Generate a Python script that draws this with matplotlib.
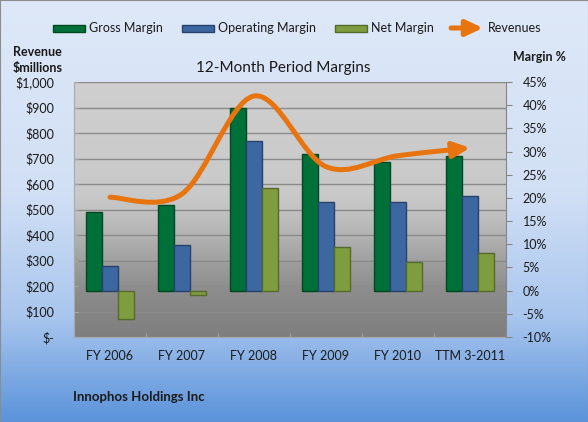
import numpy as np
import matplotlib
matplotlib.use('Agg')
import matplotlib.pyplot as plt
from matplotlib.patches import FancyArrowPatch, Rectangle
from matplotlib.path import Path
from matplotlib.colors import LinearSegmentedColormap

# data
categories = ['FY 2006', 'FY 2007', 'FY 2008', 'FY 2009', 'FY 2010', 'TTM 3-2011']
gross_margin = [17.0, 18.4, 39.3, 29.4, 27.8, 29.1]
operating_margin = [5.4, 9.8, 32.2, 19.1, 19.1, 20.4]
net_margin = [-6.2, -1.0, 22.2, 9.4, 6.2, 8.1]
revenues = [548, 561, 945, 668, 711, 742]

rev_ticks = list(range(0, 1001, 100))
rev_labels = ['$-'] + ['${:,}'.format(v) for v in rev_ticks[1:]]
pct_ticks = list(range(-10, 46, 5))
pct_labels = ['{}%'.format(v) for v in pct_ticks]

plt.rcParams['font.family'] = ['Lato', 'DejaVu Sans']
TXT = '#1a1a1a'

fig = plt.figure(figsize=(5.88, 4.22), dpi=100)

# figure background (light blue -> blue)
bg = fig.add_axes([0, 0, 1, 1], zorder=-10)
bg_cmap = LinearSegmentedColormap.from_list('bg', [
    (0.0, '#DEE8F8'), (0.45, '#D2E0F5'), (0.75, '#A9C6EE'), (1.0, '#5B93DA')])
bg.imshow(np.linspace(0, 1, 256).reshape(-1, 1), cmap=bg_cmap, aspect='auto',
          extent=[0, 1, 0, 1], origin='upper')
bg.set_xticks([])
bg.set_yticks([])
for s in bg.spines.values():
    s.set_color('#8C8C8C')

# main axes: revenue on the left
ax = fig.add_axes([74 / 588, 85 / 422, 432 / 588, 255 / 422])
plot_cmap = LinearSegmentedColormap.from_list('plot', [
    (0.0, '#7F7F7F'), (0.1, '#858585'), (0.2, '#8F8F8F'), (0.3, '#A0A0A0'),
    (0.4, '#B3B3B3'), (0.5, '#C3C3C3'), (0.56, '#C9C9C9'), (1.0, '#CFCFCF')])
ax.imshow(np.linspace(1, 0, 256).reshape(-1, 1), cmap=plot_cmap, aspect='auto',
          extent=[0, 1, 0, 1], transform=ax.transAxes, zorder=0)
ax.set_xlim(-0.5, len(categories) - 0.5)
ax.set_ylim(0, 1000)
ax.set_yticks(rev_ticks, rev_labels)
ax.grid(axis='y', color='#8A8A8A', lw=1)
ax.set_axisbelow(True)
ax.set_xticks(range(len(categories)), categories)
ax.set_xticks(np.arange(-0.5, len(categories)), minor=True)
ax.tick_params(axis='x', which='major', length=0, pad=9, labelsize=9, labelcolor=TXT)
ax.tick_params(axis='x', which='minor', length=3, direction='in', color='#A8A8A8')
ax.tick_params(axis='y', length=3, direction='in', color='#A8A8A8', pad=14,
               labelsize=9, labelcolor=TXT)
for side in ['top', 'right']:
    ax.spines[side].set_visible(False)
for side in ['left', 'bottom']:
    ax.spines[side].set_color('#A8A8A8')

# margin axis on the right with the bars
ax2 = ax.twinx()
ax2.set_ylim(-10, 45)
ax2.set_yticks(pct_ticks, pct_labels)
ax2.tick_params(axis='y', length=4, direction='out', color='#868686', pad=8,
                labelsize=9, labelcolor=TXT)
for side in ['top', 'left', 'bottom']:
    ax2.spines[side].set_visible(False)
ax2.spines['right'].set_color('#868686')

x = np.arange(len(categories))
w = 0.22
ax2.bar(x - w, gross_margin, w, color='#00703A', edgecolor='#00491F', lw=1, zorder=2)
ax2.bar(x, operating_margin, w, color='#3D67A0', edgecolor='#26436C', lw=1, zorder=2)
ax2.bar(x + w, net_margin, w, color='#7F9C3E', edgecolor='#55692A', lw=1, zorder=2)

# smoothed revenue line with arrow head
pts = np.column_stack([x, revenues]).astype(float)
pad = np.vstack([pts[0], pts, pts[-1]])
verts = [pts[0]]
codes = [Path.MOVETO]
for i in range(len(pts) - 1):
    p0, p1, p2, p3 = pad[i], pad[i + 1], pad[i + 2], pad[i + 3]
    verts += [p1 + (p2 - p0) / 6, p2 - (p3 - p1) / 6, p2]
    codes += [Path.CURVE4] * 3
line = FancyArrowPatch(path=Path(verts, codes),
                       arrowstyle='-|>,head_length=1.0,head_width=0.47',
                       mutation_scale=10, lw=3.6, color='#E8740F',
                       transform=ax.transData, zorder=3, clip_on=False)
ax2.add_patch(line)

# legend drawn by hand along the top
ly = 1 - 28 / 422
leg = [('Gross Margin', '#00703A', '#00491F', 53, 89),
       ('Operating Margin', '#3D67A0', '#26436C', 182, 218),
       ('Net Margin', '#7F9C3E', '#55692A', 335, 371)]
for label, fc, ec, x0, xt in leg:
    fig.add_artist(Rectangle((x0 / 588, ly - 3.5 / 422), 32 / 588, 7 / 422,
                             facecolor=fc, edgecolor=ec, lw=1,
                             transform=fig.transFigure))
    fig.text(xt / 588, ly, label, fontsize=9, color=TXT, va='center', ha='left')
fig.add_artist(FancyArrowPatch((451 / 588, ly), (483 / 588, ly),
                               arrowstyle='-|>,head_length=1.0,head_width=0.47',
                               mutation_scale=10, lw=3.6, color='#E8740F',
                               shrinkA=0, shrinkB=0, transform=fig.transFigure))
fig.text(488 / 588, ly, 'Revenues', fontsize=9, color=TXT, va='center', ha='left')

fig.text(13 / 588, 1 - 52 / 422, 'Revenue', fontsize=9, fontweight='bold',
         color=TXT, va='center', ha='left')
fig.text(13 / 588, 1 - 68 / 422, '$millions', fontsize=9, fontweight='bold',
         color=TXT, va='center', ha='left')
fig.text(513 / 588, 1 - 57 / 422, 'Margin %', fontsize=9, fontweight='bold',
         color=TXT, va='center', ha='left')
fig.text(283 / 588, 1 - 68 / 422, '12-Month Period Margins', fontsize=11,
         color=TXT, va='center', ha='center')
fig.text(73 / 588, 1 - 397 / 422, 'Innophos Holdings Inc', fontsize=9.5,
         fontweight='bold', color=TXT, va='center', ha='left')

fig.savefig('out.png', dpi=100)
